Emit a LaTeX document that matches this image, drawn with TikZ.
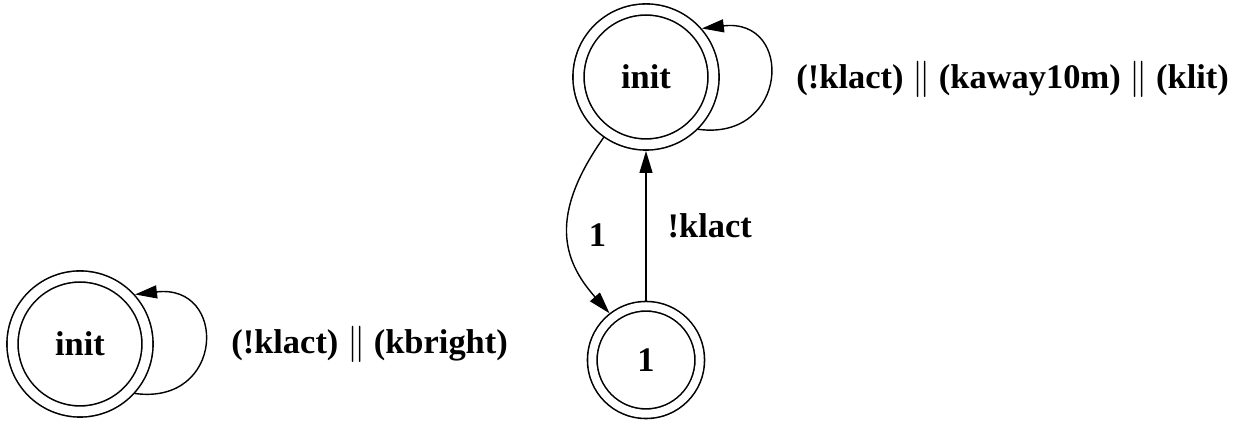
\documentclass[tikz,border=0pt]{standalone}
\usepackage{fontspec}
\setmainfont{Liberation Serif}
\usetikzlibrary{arrows.meta}
\begin{document}
\begin{tikzpicture}[
				line join = round,line cap = round,>={Triangle[length=4.4mm,width=2.6mm]},scale=1,inner sep = 1mm,
				font=\fontsize{19.6}{23}\selectfont\bfseries,
				stinit/.style={circle,draw,line width=0.9pt,double,double distance=0.19cm,minimum size=2.7cm,outer sep=0.13cm},
				stone/.style={circle,draw,line width=0.9pt,double,double distance=0.16cm,minimum size=2.15cm,outer sep=0.11cm},
				trans/.style={->,line width=0.8pt}]
				\useasboundingbox (0,0) rectangle (24.88,8.5);
				\node at (1.6,1.62) (initA) [stinit] {init};
				\node at (12.92,6.96) (initB) [stinit] {init};
				\node at (12.92,1.30) (nodeOne) [stone] {1};
				\draw[trans] (initA.-42) .. controls +(1.8,-0.24) and +(1.86,0.22) .. node[right=4.4mm]{(!klact) $\|$ (kbright)} (initA.42);
				\draw[trans] (initB.-45) .. controls +(1.8,-0.24) and +(1.86,0.22) .. node[right=4.4mm]{(!klact) $\|$ (kaway10m) $\|$ (klit)} (initB.41);
				\draw[trans] (initB.235) .. controls +(-1.1,-1.56) and +(-0.94,1.06) .. node[right=3mm]{1} (nodeOne.128);
				\draw[trans] (nodeOne) to node[right=3.2mm]{!klact} (initB);
			\end{tikzpicture}
\end{document}
